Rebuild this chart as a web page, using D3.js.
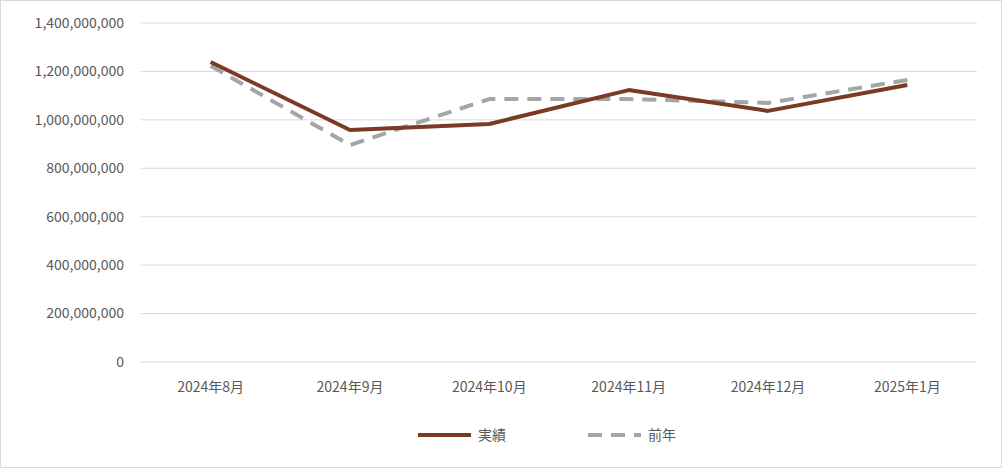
<!DOCTYPE html>
<html><head><meta charset="utf-8">
<script src="https://cdn.jsdelivr.net/npm/d3@7"></script>
<style>body{margin:0;background:#fff}</style>
</head><body>
<svg id="chart" width="1002" height="468"></svg>
<script>
const months = ["2024年8月","2024年9月","2024年10月","2024年11月","2024年12月","2025年1月"];
const actual = [1239000000, 958000000, 983000000, 1123000000, 1037000000, 1144000000];
const lastYear = [1223000000, 896000000, 1086000000, 1086000000, 1070000000, 1165000000];
const yTicks = [0,200000000,400000000,600000000,800000000,1000000000,1200000000,1400000000];

const svg = d3.select("#chart");
const font = "'Noto Sans CJK JP', 'Liberation Sans', sans-serif";
svg.append("rect").attr("x",0.5).attr("y",0.5).attr("width",1001).attr("height",467)
  .attr("fill","#fff").attr("stroke","#d9d9d9");

const x = d3.scaleBand().domain(months).range([141, 977]);
const y = d3.scaleLinear().domain([0, 1400000000]).range([362, 23]);

// gridlines
svg.append("g").selectAll("line").data(yTicks).join("line")
  .attr("x1",141).attr("x2",977).attr("y1",d=>y(d)).attr("y2",d=>y(d))
  .attr("stroke","#d9d9d9").attr("stroke-width",1);

svg.append("g").selectAll("text").data(yTicks).join("text")
  .attr("x",124).attr("y",d=>y(d)).attr("dy","0.35em").attr("text-anchor","end")
  .attr("font-family",font).attr("font-size",14).attr("fill","#595959")
  .text(d=>d3.format(",")(d));

svg.append("g").selectAll("text").data(months).join("text")
  .attr("x",d=>x(d)+x.bandwidth()/2).attr("y",392).attr("text-anchor","middle")
  .attr("font-family",font).attr("font-size",14).attr("fill","#595959").text(d=>d);

const line = d3.line().x((d,i)=>x(months[i])+x.bandwidth()/2).y(d=>y(d));
svg.append("path").datum(lastYear).attr("d",line).attr("fill","none")
  .attr("stroke","#a5a5a5").attr("stroke-width",4).attr("stroke-dasharray","14,9");
svg.append("path").datum(actual).attr("d",line).attr("fill","none")
  .attr("stroke","#7b3a22").attr("stroke-width",4).attr("stroke-linejoin","round");

// legend
const lg = svg.append("g");
lg.append("line").attr("x1",418).attr("x2",471).attr("y1",435).attr("y2",435)
  .attr("stroke","#7b3a22").attr("stroke-width",4);
lg.append("text").attr("x",478).attr("y",435).attr("dy","0.35em")
  .attr("font-family",font).attr("font-size",14).attr("fill","#595959").text("実績");
lg.append("line").attr("x1",588).attr("x2",641).attr("y1",435).attr("y2",435)
  .attr("stroke","#a5a5a5").attr("stroke-width",4).attr("stroke-dasharray","14,9");
lg.append("text").attr("x",648).attr("y",435).attr("dy","0.35em")
  .attr("font-family",font).attr("font-size",14).attr("fill","#595959").text("前年");
</script>
</body></html>
